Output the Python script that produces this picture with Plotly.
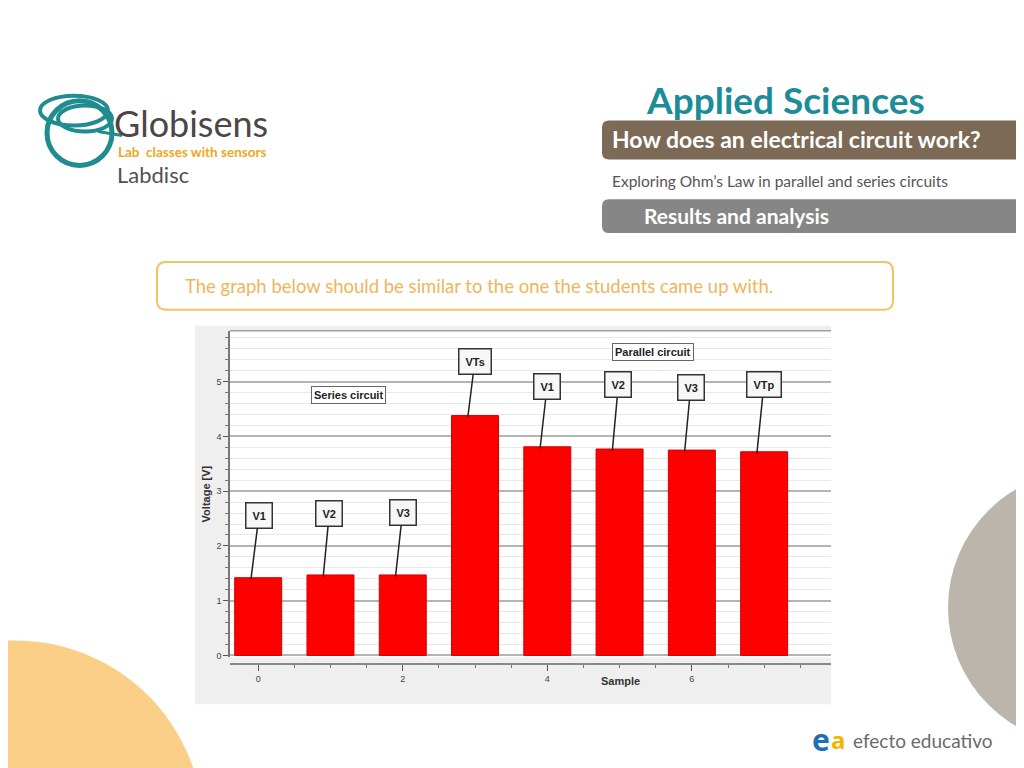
import plotly.graph_objects as go

# ---- data ----
samples = [0, 1, 2, 3, 4, 5, 6, 7]
voltages = [1.42, 1.47, 1.47, 4.38, 3.81, 3.77, 3.75, 3.72]
callout_labels = ["V1", "V2", "V3", "VTs", "V1", "V2", "V3", "VTp"]
y_ticks = [0, 1, 2, 3, 4, 5]
x_ticks = [0, 2, 4, 6]

# callout box offsets (px) relative to bar tip
callout_dx = [8, 6, 7, 7, 7, 6, 6, 7]
callout_dy = [-64, -63, -64, -56, -62, -66, -64, -69]

# page has an 8px body margin: work in page pixel coordinates
OFF = 8
W, H = 1024 - OFF, 768 - OFF
def px(x):
    return (x - OFF) / W
def py(y):
    return 1 - (y - OFF) / H

fig = go.Figure()
fig.add_trace(go.Bar(
    x=samples, y=voltages, width=0.65,
    marker=dict(color="#ff0000", line=dict(color="#d00000", width=1)),
    hoverinfo="x+y", showlegend=False,
))

shapes = []
# decorative circles
shapes.append(dict(type="circle", xref="paper", yref="paper", layer="below",
                   x0=px(15 - 188), x1=px(15 + 188), y0=py(831 + 188), y1=py(831 - 188),
                   fillcolor="#fbcf88", line=dict(width=0)))
shapes.append(dict(type="circle", xref="paper", yref="paper", layer="below",
                   x0=px(1086 - 138), x1=px(1086 + 138), y0=py(610 + 138), y1=py(610 - 138),
                   fillcolor="#bcb5ac", line=dict(width=0)))

def rounded_left_bar(x0, y0, x1, y1, r):
    return (f"M {px(x1)},{py(y0)} L {px(x0 + r)},{py(y0)} "
            f"Q {px(x0)},{py(y0)} {px(x0)},{py(y0 + r)} "
            f"L {px(x0)},{py(y1 - r)} Q {px(x0)},{py(y1)} {px(x0 + r)},{py(y1)} "
            f"L {px(x1)},{py(y1)} Z")

def rounded_rect(x0, y0, x1, y1, r):
    return (f"M {px(x0 + r)},{py(y0)} L {px(x1 - r)},{py(y0)} Q {px(x1)},{py(y0)} {px(x1)},{py(y0 + r)} "
            f"L {px(x1)},{py(y1 - r)} Q {px(x1)},{py(y1)} {px(x1 - r)},{py(y1)} "
            f"L {px(x0 + r)},{py(y1)} Q {px(x0)},{py(y1)} {px(x0)},{py(y1 - r)} "
            f"L {px(x0)},{py(y0 + r)} Q {px(x0)},{py(y0)} {px(x0 + r)},{py(y0)} Z")

# header bars
shapes.append(dict(type="path", xref="paper", yref="paper", layer="below",
                   path=rounded_left_bar(602, 121, 1030, 160, 7),
                   fillcolor="#7c6a56", line=dict(width=0)))
shapes.append(dict(type="path", xref="paper", yref="paper", layer="below",
                   path=rounded_left_bar(602, 200, 1030, 234, 7),
                   fillcolor="#868686", line=dict(width=0)))
# orange note box
shapes.append(dict(type="path", xref="paper", yref="paper", layer="below",
                   path=rounded_rect(157, 263, 893, 311, 9),
                   fillcolor="white", line=dict(color="#f3c266", width=2)))
# chart background
shapes.append(dict(type="rect", xref="paper", yref="paper", layer="below",
                   x0=px(195), x1=px(831), y0=py(707), y1=py(327),
                   fillcolor="#efefef", line=dict(width=0)))
shapes.append(dict(type="rect", xref="paper", yref="paper", layer="below",
                   x0=px(230), x1=px(831), y0=py(660), y1=py(332),
                   fillcolor="white", line=dict(width=0)))
shapes.append(dict(type="line", xref="paper", yref="paper",
                   x0=px(230), x1=px(831), y0=py(332), y1=py(332),
                   line=dict(color="#a0a0a0", width=1.5)))
# logo swirl
teal = "#1f8c90"
shapes.append(dict(type="circle", xref="paper", yref="paper",
                   x0=px(47), x1=px(112), y0=py(166), y1=py(101),
                   line=dict(color=teal, width=5)))
shapes.append(dict(type="circle", xref="paper", yref="paper",
                   x0=px(40), x1=px(108), y0=py(126), y1=py(96),
                   line=dict(color=teal, width=4)))
shapes.append(dict(type="circle", xref="paper", yref="paper",
                   x0=px(58), x1=px(112), y0=py(132), y1=py(106),
                   line=dict(color=teal, width=4)))
shapes.append(dict(type="line", xref="paper", yref="paper",
                   x0=px(98), x1=px(122), y0=py(132), y1=py(136),
                   line=dict(color=teal, width=3)))

annotations = []
def txt(x, y, text, size, color, family="Lato", bold=False, xanchor="left", **kw):
    t = f"<b>{text}</b>" if bold else text
    annotations.append(dict(xref="paper", yref="paper", x=px(x), y=py(y), text=t,
                            showarrow=False, xanchor=xanchor, yanchor="middle",
                            font=dict(size=size, color=color, family=family), **kw))

txt(644, 100, "Applied Sciences", 37, "#1b8c98", bold=True)
txt(610, 140, "How does an electrical circuit work?", 23, "white", bold=True)
txt(610, 182, "Exploring Ohm’s Law in parallel and series circuits", 15.5, "#555555")
txt(642, 216, "Results and analysis", 21, "white", bold=True)
txt(183, 287, "The graph below should be similar to the one the students came up with.", 18.5, "#f0b55a")
txt(112, 123, "Globisens", 36, "#4e4644")
txt(116, 153, "Lab  classes with sensors", 13.5, "#f1a61c", bold=True)
txt(115, 175, "Labdisc", 22, "#555050")
txt(851, 743, "efecto educativo", 19, "#6a6a6a")
txt(810, 742, "e", 30, "#1f6fb5", bold=True, family="Noto Sans")
txt(829, 742, "a", 24, "#f4b400", bold=True, family="Noto Sans")

# chart labels
annotations.append(dict(xref="paper", yref="paper", x=px(620), y=py(692), text="<b>Sample</b>",
                        showarrow=False, font=dict(size=11, color="#333333", family="Liberation Sans")))
annotations.append(dict(xref="paper", yref="paper", x=px(348), y=py(397), text="<b>Series circuit</b>",
                        showarrow=False, bgcolor="white", bordercolor="#666666", borderwidth=1, borderpad=2,
                        font=dict(size=11, color="#222222", family="Liberation Sans")))
annotations.append(dict(xref="paper", yref="paper", x=px(653), y=py(353), text="<b>Parallel circuit</b>",
                        showarrow=False, bgcolor="white", bordercolor="#666666", borderwidth=1, borderpad=2,
                        font=dict(size=11, color="#222222", family="Liberation Sans")))

for s, v, lab, dx, dy in zip(samples, voltages, callout_labels, callout_dx, callout_dy):
    annotations.append(dict(x=s - 0.1, y=v - 0.03, xref="x", yref="y", text=f"<b>{lab}</b>",
                            showarrow=True, arrowhead=0, arrowwidth=1.5, arrowcolor="#222222",
                            ax=dx, ay=dy, bgcolor="#f7f7f7", bordercolor="#333333",
                            borderwidth=1.5, borderpad=6,
                            font=dict(size=11, color="#222222", family="Liberation Sans")))

fig.update_layout(
    width=W, height=H, margin=dict(l=0, r=0, t=0, b=0),
    paper_bgcolor="white", plot_bgcolor="white",
    shapes=shapes, annotations=annotations, bargap=0.35,
    xaxis=dict(domain=[px(230), px(831)], range=[-0.39, 7.925], anchor="free", position=py(667),
               tickvals=x_ticks, ticks="outside", ticklen=6, tickcolor="#555555",
               showline=True, linecolor="#888888", linewidth=2, showgrid=False, zeroline=False,
               tickfont=dict(size=9, color="#444444", family="Liberation Sans"),
               minor=dict(dtick=0.5, tick0=0, ticks="outside", ticklen=3, tickcolor="#777777", showgrid=False)),
    yaxis=dict(domain=[py(660), py(332)], range=[-0.036, 5.93],
               tickvals=y_ticks, ticks="outside", ticklen=5, tickcolor="#555555",
               showline=True, linecolor="#777777", linewidth=1.5,
               showgrid=True, gridcolor="#b4b4b4", gridwidth=1.5, zeroline=False,
               tickfont=dict(size=9, color="#444444", family="Liberation Sans"),
               title=dict(text="<b>Voltage [V]</b>", standoff=4,
                          font=dict(size=11, color="#333333", family="Liberation Sans")),
               minor=dict(dtick=0.2, tick0=0, ticks="outside", ticklen=3, tickcolor="#777777",
                          showgrid=True, gridcolor="#e8e8e8", gridwidth=1)),
)

fig.write_html("out.html")
